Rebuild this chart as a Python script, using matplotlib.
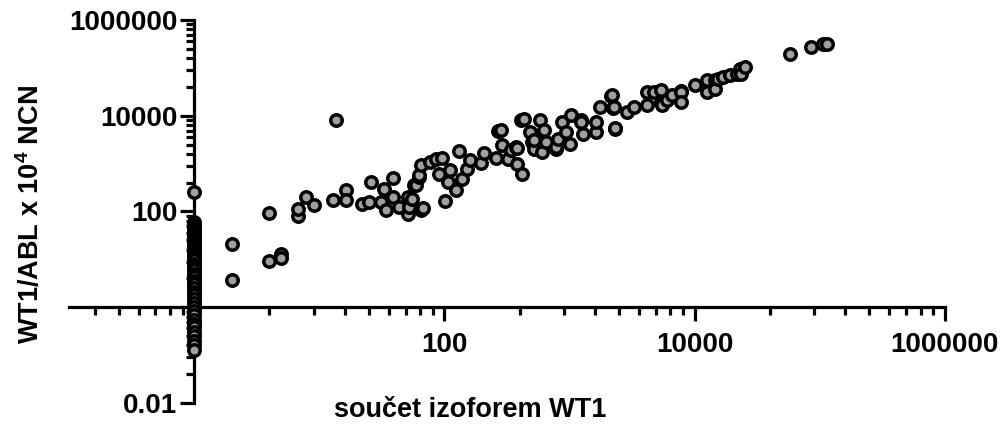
import matplotlib
matplotlib.use("Agg")
import matplotlib.pyplot as plt
import matplotlib.ticker as ticker

plt.rcParams['font.family'] = ['Liberation Sans', 'DejaVu Sans']
plt.rcParams['font.weight'] = 'bold'
plt.rcParams['mathtext.fontset'] = 'custom'
plt.rcParams['mathtext.rm'] = 'Liberation Sans:bold'
plt.rcParams['mathtext.bf'] = 'Liberation Sans:bold'

# samples with zero-ish isoform sum, plotted at x = 1
column_y = [255, 60, 55, 48, 42, 38, 34, 30, 27, 24, 21, 19, 17, 15, 13, 11,
            9.5, 8, 7, 6, 5, 4.3, 3.6, 3, 2.5, 2.1, 1.8, 1.5, 1.25, 1.0, 0.85,
            0.7, 0.55, 0.45, 0.38, 0.3, 0.25, 0.2, 0.16, 0.13]

isoform_sum = [2.0, 2.0, 3.95, 3.95, 4.95, 4.95, 6.8, 6.8, 7.9, 9.0, 12.8, 13.6,
               16.5, 16.5, 22, 25, 26, 31, 33, 34, 39, 39, 43, 51, 51, 52, 55,
               57, 59, 63, 63, 65, 65, 68, 77, 86, 90, 95, 102, 106, 111, 123,
               131, 139, 152, 159, 195, 208, 257, 270, 283, 287, 323, 339, 372,
               380, 383, 413, 420, 437, 480, 504, 520, 520, 580, 605, 625, 645,
               775, 775, 810, 865, 930, 1010, 1020, 1230, 1230, 1290, 1620,
               1620, 1740, 2130, 2200, 2230, 2260, 2330, 2330, 2900, 3270, 4170,
               4170, 4730, 5350, 5350, 5500, 6030, 6620, 7750, 7800, 7750,
               10100, 12600, 12600, 14600, 14600, 15500, 17000, 19300, 21800,
               23200, 23400, 25400, 58200, 85000, 107000, 114000]
wt1_abl = [21, 3.7, 95, 9.4, 13.2, 10.5, 79, 115, 200, 135, 177, 8350,
           277, 177, 146, 158, 413, 158, 300, 110, 510, 200, 124, 90, 200, 124,
           186, 354, 354, 525, 570, 920, 106, 121, 1070, 1270, 620, 1330, 165,
           413, 725, 277, 1830, 485, 790, 1210, 1030, 1700, 1330, 4800, 5000,
           2400, 1270, 1900, 2220, 2140, 966, 8000, 620, 8700, 4570, 2820, 2050,
           3070, 8000, 1740, 4960, 2820, 2050, 2220, 3330, 7400, 4570, 2620,
           10200, 8000, 7400, 4230, 4570, 7400, 15200, 25300, 26700, 14700,
           15200, 5370, 5630, 12000, 15200, 31400, 16600, 31400, 33900, 19400,
           16600, 20900, 26700, 32900, 31400, 19400, 43100, 54600, 31400, 56800,
           37000, 59500, 64600, 69500, 75400, 95800, 75400, 104000, 198000,
           272000, 310000, 318000]

x_major = [1, 100, 10000, 1000000]
y_major = [0.01, 1, 100, 10000, 1000000]
tick_text = {0.01: '0.01', 1: '', 100: '100', 10000: '10000', 1000000: '1000000'}

fig = plt.figure(figsize=(10.02, 4.33), dpi=100)
ax = fig.add_axes([0.0689, 0.0693, 0.874, 0.8845])

xs = [1] * len(column_y) + isoform_sum
ys = column_y + wt1_abl
ax.scatter(xs, ys, s=68, c='#a0a0a3', edgecolors='black', linewidths=2.5,
           zorder=3, clip_on=False)

ax.set_xscale('log')
ax.set_yscale('log')
ax.set_xlim(0.1, 1e6)
ax.set_ylim(0.01, 1e6)

ax.spines['top'].set_visible(False)
ax.spines['right'].set_visible(False)
ax.spines['left'].set_position(('data', 1))
ax.spines['bottom'].set_position(('data', 1))
for side in ['left', 'bottom']:
    ax.spines[side].set_linewidth(2.3)

# Prism-style minor ticks: k^2 steps inside each 2-decade span
x_minor = [base * k * k for base in [0.01, 1, 100, 10000] for k in range(2, 10)]
y_minor = [base * k * k for base in [0.01, 1, 100, 10000] for k in range(2, 10)]
x_minor = [v for v in x_minor if v >= 0.1]
fmt = ticker.FuncFormatter(lambda v, pos: tick_text.get(round(v, 6) if v < 1 else round(v), ''))
ax.xaxis.set_major_locator(ticker.FixedLocator(x_major))
ax.yaxis.set_major_locator(ticker.FixedLocator(y_major))
ax.xaxis.set_minor_locator(ticker.FixedLocator(x_minor))
ax.yaxis.set_minor_locator(ticker.FixedLocator(y_minor))
for axis in [ax.xaxis, ax.yaxis]:
    axis.set_major_formatter(fmt)
    axis.set_minor_formatter(ticker.NullFormatter())

ax.tick_params(which='major', length=10, width=2.3, labelsize=20)
ax.tick_params(which='minor', length=6, width=2.3)
ax.tick_params(axis='x', which='major', pad=8)
ax.tick_params(axis='y', which='major', pad=2)

fig.text(0.469, 0.053, 'součet izoforem WT1', ha='center', va='center',
         fontsize=19.5, fontweight='bold')
fig.text(0.031, 0.505, r'WT1/ABL x 10$^{\mathbf{4}}$ NCN', ha='center', va='center',
         rotation=90, fontsize=19.5, fontweight='bold')

fig.savefig('out.png', dpi=100)
